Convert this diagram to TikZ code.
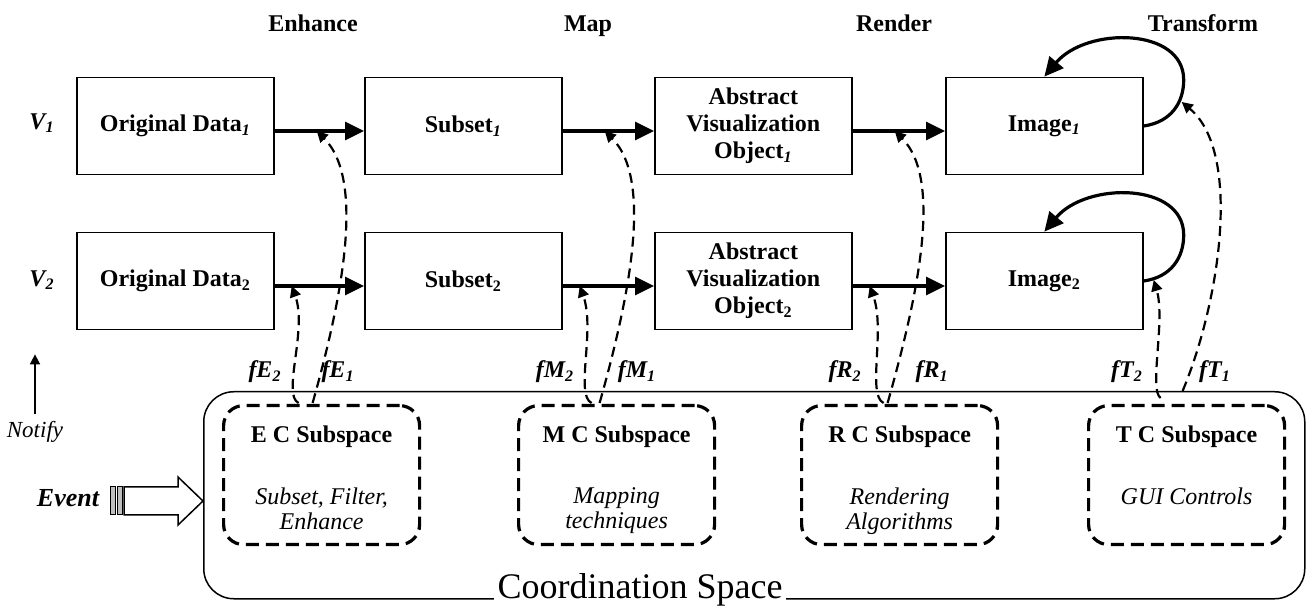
\documentclass[tikz,border=0pt]{standalone}
\usepackage{fontspec}
\setmainfont{Liberation Serif}
\usepackage{tikz}
\usetikzlibrary{calc,positioning,arrows.meta}
\tikzset{stage box/.style={draw=black, line width=0.85pt, minimum width=98.5pt,
           minimum height=48.5pt, align=center, inner sep=2pt,
           font=\fontsize{12}{13.5}\selectfont\bfseries},
     stage label/.style={anchor=base, font=\fontsize{12}{14}\selectfont\bfseries},
     view label/.style={font=\fontsize{12}{14}\selectfont\bfseries\itshape},
     feed label/.style={font=\fontsize{12}{14}\selectfont\bfseries\itshape},
     flow arrow/.style={line width=1.6pt, -{Triangle[length=9.5pt,width=9pt]}},
     transform loop/.style={line width=1.6pt, -{Triangle[length=9.5pt,width=9pt]}},
     feed arrow/.style={line width=1.1pt, dash pattern=on 5pt off 3pt,
           -{Triangle[length=5.5pt,width=5.5pt]}},
     subspace box/.style={draw=black, line width=1.6pt, dash pattern=on 6.5pt off 3.5pt,
           rounded corners=10pt, minimum width=98pt, minimum height=69.5pt, inner sep=0pt},
     subspace title/.style={anchor=base, font=\fontsize{12}{14}\selectfont\bfseries},
     subspace text/.style={anchor=north, align=center, inner sep=0pt,
           font=\fontsize{12}{12.5}\selectfont\itshape},
     coord space/.style={draw=black, line width=0.75pt, rounded corners=15pt,
           minimum width=550.5pt, minimum height=103.5pt, inner sep=0pt},
     event arrow/.style={draw=black, line width=0.75pt, fill=white},
     notify arrow/.style={line width=0.75pt, -{Triangle[length=5pt,width=5pt]}}
     }
\def\Stage#1#2#3#4{%
  \node[stage box, anchor=west] (#1) at (#2,#3) {#4};
}
\def\Subspace#1#2#3#4{%
  \node[subspace box, anchor=north west] (#1) at (#2,404) {};
  \node[subspace title] (#1 title) at ($(#1.north)+(0,39)$) {#3};
  \node[subspace text] (#1 text) at ($(#1.north)+(0,83)$) {#4};
}
\def\Feed#1#2#3#4#5{%
  \draw[feed arrow] ($(#1.north)+(#2,-1)$) .. controls +(29,-103) and +(49,49) .. ($(#4.east)+(42,5)$);
  \draw[feed arrow] ($(#1.north)+(#3,-1)$) .. controls +(-17,-8) and +(16,44) .. ($(#5.east)+(17,5)$);
}
\begin{document}
\begin{tikzpicture}[x=0.5pt,y=-0.5pt]
\useasboundingbox (0,0) rectangle (1306,608);
\node[stage label] (enhance) at (313,32) {Enhance};
\node[stage label] (map) at (588,32) {Map};
\node[stage label] (render) at (894,32) {Render};
\node[stage label] (transform) at (1203,32) {Transform};
\node[view label] (v1) at (42,123) {V\textsubscript{1}};
\node[view label] (v2) at (42,280) {V\textsubscript{2}};
\Stage{data1}{76}{126}{Original Data\textsubscript{\itshape 1}}
\Stage{subset1}{364}{126}{Subset\textsubscript{\itshape 1}}
\Stage{avo1}{654}{126}{Abstract\\Visualization\\Object\textsubscript{\itshape 1}}
\Stage{img1}{945}{126}{Image\textsubscript{\itshape 1}}
\Stage{data2}{76}{281}{Original Data\textsubscript{2}}
\Stage{subset2}{364}{281}{Subset\textsubscript{2}}
\Stage{avo2}{654}{281}{Abstract\\Visualization\\Object\textsubscript{2}}
\Stage{img2}{945}{281}{Image\textsubscript{2}}
\foreach \a/\b in {data1/subset1,subset1/avo1,avo1/img1,data2/subset2,subset2/avo2,avo2/img2}
  \draw[flow arrow] ([yshift=-2.5pt]\a.east) -- ([yshift=-2.5pt]\b.west);
\draw[transform loop] (img1.east) .. controls +(28,-4) and +(0,22) .. ($(img1.east)+(40,-46)$)
  .. controls +(0,-53) and +(42,-50) .. (img1.north);
\draw[transform loop] (img2.east) .. controls +(28,-4) and +(0,22) .. ($(img2.east)+(40,-46)$)
  .. controls +(0,-53) and +(42,-50) .. (img2.north);
\node[coord space, anchor=north west] (cspace) at (203,391) {};
\node[fill=white, inner sep=2pt, anchor=base, font=\fontsize{18}{20}\selectfont] (cspace label) at (640,598) {Coordination Space};
\Subspace{ecs}{222}{E C Subspace}{Subset, Filter,\\Enhance}
\Subspace{mcs}{517}{M C Subspace}{Mapping\\techniques}
\Subspace{rcs}{800}{R C Subspace}{Rendering\\Algorithms}
\Subspace{tcs}{1087}{T C Subspace}{GUI Controls}
\Feed{ecs}{-9}{-23}{data1}{data2}
\Feed{mcs}{-17}{-25}{subset1}{subset2}
\Feed{rcs}{-12}{-16}{avo1}{avo2}
\coordinate (tip t1) at ($(img1.east)+(38,-24)$);
\coordinate (tip t2) at ($(img2.east)+(10,-1)$);
\draw[feed arrow] ($(tcs.north)+(-4,-13)$) .. controls +(38,-91) and +(60,50) .. (tip t1);
\draw[feed arrow] ($(tcs.north)+(-26,-6)$) .. controls +(-12,-8) and +(12,40) .. (tip t2);
\node[feed label] (fe2) at (265,372) {fE\textsubscript{2}};
\node[feed label] (fe1) at (338,372) {fE\textsubscript{1}};
\node[feed label] (fm2) at (555,372) {fM\textsubscript{2}};
\node[feed label] (fm1) at (637,372) {fM\textsubscript{1}};
\node[feed label] (fr2) at (845,372) {fR\textsubscript{2}};
\node[feed label] (fr1) at (932,372) {fR\textsubscript{1}};
\node[feed label] (ft2) at (1127,372) {fT\textsubscript{2}};
\node[feed label] (ft1) at (1215,372) {fT\textsubscript{1}};
\node[font=\fontsize{11.5}{13}\selectfont\itshape] (notify) at (35,432) {Notify};
\draw[notify arrow] (notify.north) -- ++(0,-60);
\node[font=\fontsize{13}{15}\selectfont\bfseries\itshape] (event) at (68,498) {Event};
\filldraw[fill=gray!50, line width=0.5pt] (110,487) rectangle (115,515);
\filldraw[fill=gray!50, line width=0.5pt] (117,487) rectangle (122,515);
\draw[event arrow] (124,487) -- (178,487) -- (178,477) -- (cspace.west |- 0,501) -- (178,525) -- (178,515) -- (124,515) -- cycle;
\end{tikzpicture}
\end{document}
